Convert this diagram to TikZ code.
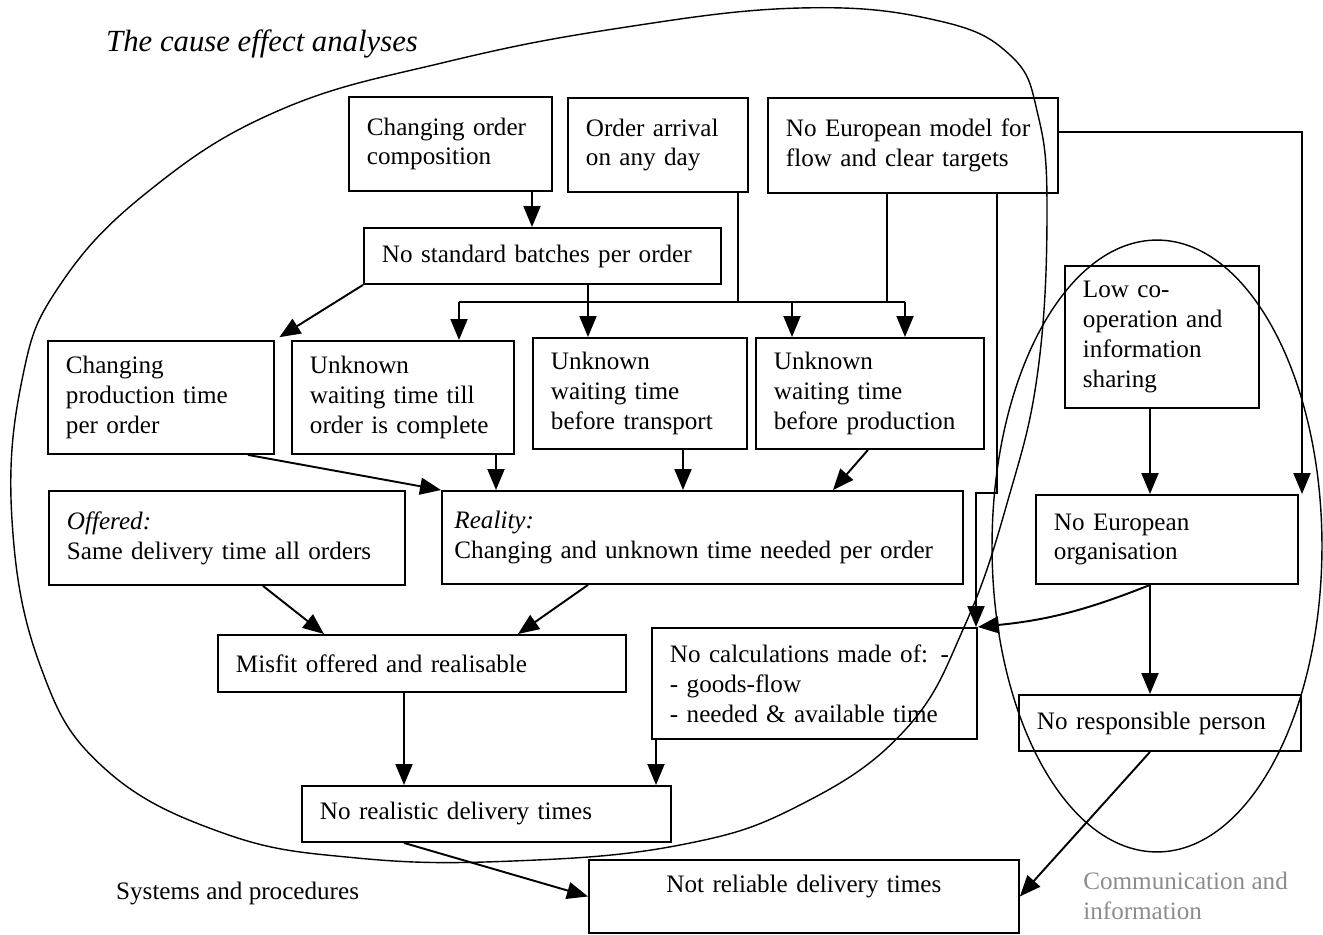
\documentclass[tikz,border=0pt]{standalone}
\usepackage{fontspec}
\setmainfont{Liberation Serif}
\usetikzlibrary{arrows.meta}

\begin{document}
\begin{tikzpicture}[
  x=0.02cm, y=-0.02cm,
  font=\fontsize{14.3}{17}\selectfont,
  box/.style={draw, line width=1.1pt, align=left, anchor=north west, inner xsep=0.36cm, inner ysep=0pt},
  arr/.style={-{Triangle[length=0.42cm, width=0.34cm]}, line width=1.1pt},
  link/.style={line width=1.1pt},
  loop/.style={line width=0.8pt}
]
\useasboundingbox (0,0) rectangle (1323,934);

% ---------- columns and rows for the connectors ----------
\foreach \x in {248,263,324,404,459,496,518,532,588,656,683,738,792,833,868,887,905,976,997,1150,1302}
  \coordinate (x\x) at (\x,0);
\foreach \y in {132,302,493}
  \coordinate (y\y) at (0,\y);

% ---------- the two groups ----------
\draw[loop] plot[smooth cycle, tension=0.7] coordinates {
  (800,8) (935,20) (1010,55) (1038,115) (1047,210) (1038,370) (1008,500)
  (965,625) (905,730) (800,805) (680,845) (513,861) (357,858) (223,833)
  (103,767) (40,665) (12,520) (22,380) (60,285) (150,190) (280,110)
  (446,62) (620,28)};
\draw[loop] (1157,546) ellipse [x radius=3.3cm, y radius=6.12cm];

\node[font=\fontsize{17.5}{20}\selectfont\itshape, anchor=west] (title) at (100,44) {The cause effect analyses};
\node[anchor=west] (sys) at (110,893) {Systems and procedures};
\node[anchor=north west, align=left, inner sep=0pt, text=black!45] (comm) at (1083,872) {Communication and\\information};

% ---------- top row ----------
\node[box, text width=3.34cm, minimum height=1.88cm] (chg) at (348,96) {Changing order\\composition};
\node[box, text width=2.88cm, minimum height=1.88cm] (arrive) at (567,97) {Order arrival\\on any day};
\node[box, text width=5.08cm, minimum height=1.90cm] (model) at (767,97) {No European model for\\flow and clear targets};
\node[box, text width=6.42cm, minimum height=1.12cm] (batch) at (363,227) {No standard batches per order};
\node[box, text width=3.16cm, minimum height=2.84cm] (coop) at (1064,265) {Low co-\\operation and\\information\\sharing};

% ---------- waiting times ----------
\node[box, text width=3.80cm, minimum height=2.26cm] (prodtime) at (47,340) {Changing\\production time\\per order};
\node[box, text width=3.72cm, minimum height=2.26cm] (complete) at (291,340) {Unknown\\waiting time till\\order is complete};
\node[box, text width=3.56cm, minimum height=2.22cm] (transport) at (532,337) {Unknown\\waiting time\\before transport};
\node[box, text width=3.84cm, minimum height=2.22cm] (production) at (755,337) {Unknown\\waiting time\\before production};

% ---------- offered / reality ----------
\node[box, text width=6.40cm, minimum height=1.88cm] (offered) at (48,490) {\textit{Offered:}\\Same delivery time all orders};
\node[box, text width=9.92cm, inner xsep=0.25cm, minimum height=1.86cm] (reality) at (441,490) {\textit{Reality:}\\Changing and unknown time needed per order};
\node[box, text width=4.52cm, minimum height=1.78cm] (organis) at (1035,494) {No European\\organisation};

% ---------- lower part ----------
\node[box, text width=7.44cm, minimum height=1.14cm] (misfit) at (217,634) {Misfit offered and realisable};
\node[box, text width=5.78cm, minimum height=2.22cm] (calc) at (651,627) {No calculations made of: -\\- goods-flow\\- needed \& available time};
\node[box, text width=4.92cm, minimum height=1.12cm] (person) at (1018,694) {No responsible person};
\node[box, text width=6.66cm, minimum height=1.12cm] (realistic) at (301,785) {No realistic delivery times};
\node[box, align=center, text width=7.88cm, minimum height=1.46cm, text depth=0.5cm] (reliable) at (588,859) {Not reliable delivery times};

% ---------- connectors ----------
\draw[arr] (chg.south -| x532) -- (batch.north -| x532);
\draw[link] (x459 |- y302) -- (x905 |- y302);
\draw[link] (arrive.south -| x738) -- (x738 |- y302);
\draw[link] (model.south -| x887) -- (x887 |- y302);
\draw[arr] (batch.south -| x588) -- (transport.north -| x588);
\draw[arr] (x459 |- y302) -- (complete.north -| x459);
\draw[arr] (x792 |- y302) -- (production.north -| x792);
\draw[arr] (x905 |- y302) -- (production.north -| x905);
\draw[arr, shorten >=3pt] (batch.south west) -- (prodtime.north east);

\draw[arr] (model.east |- y132) -- (x1302 |- y132) -- (organis.north -| x1302);
\draw[arr] (model.south -| x997) -- (x997 |- y493) -- (x976 |- y493) -- (calc.north -| x976);
\draw[arr] (coop.south -| x1150) -- (organis.north -| x1150);
\draw[arr] (organis.south -| x1150) -- (person.north -| x1150);
\draw[arr] (organis.south -| x1150) to[bend left=8] (calc.north east);

\draw[arr] (prodtime.south -| x248) -- (reality.north west);
\draw[arr] (complete.south -| x496) -- (reality.north -| x496);
\draw[arr] (transport.south -| x683) -- (reality.north -| x683);
\draw[arr] (production.south -| x868) -- (reality.north -| x833);

\draw[arr] (offered.south -| x263) -- (misfit.north -| x324);
\draw[arr] (reality.south -| x588) -- (misfit.north -| x518);
\draw[arr] (misfit.south -| x404) -- (realistic.north -| x404);
\draw[arr] (calc.south -| x656) -- (realistic.north -| x656);
\draw[arr] (realistic.south -| x404) -- (reliable.west);
\draw[arr] (person.south -| x1150) -- (reliable.east);

\end{tikzpicture}
\end{document}
